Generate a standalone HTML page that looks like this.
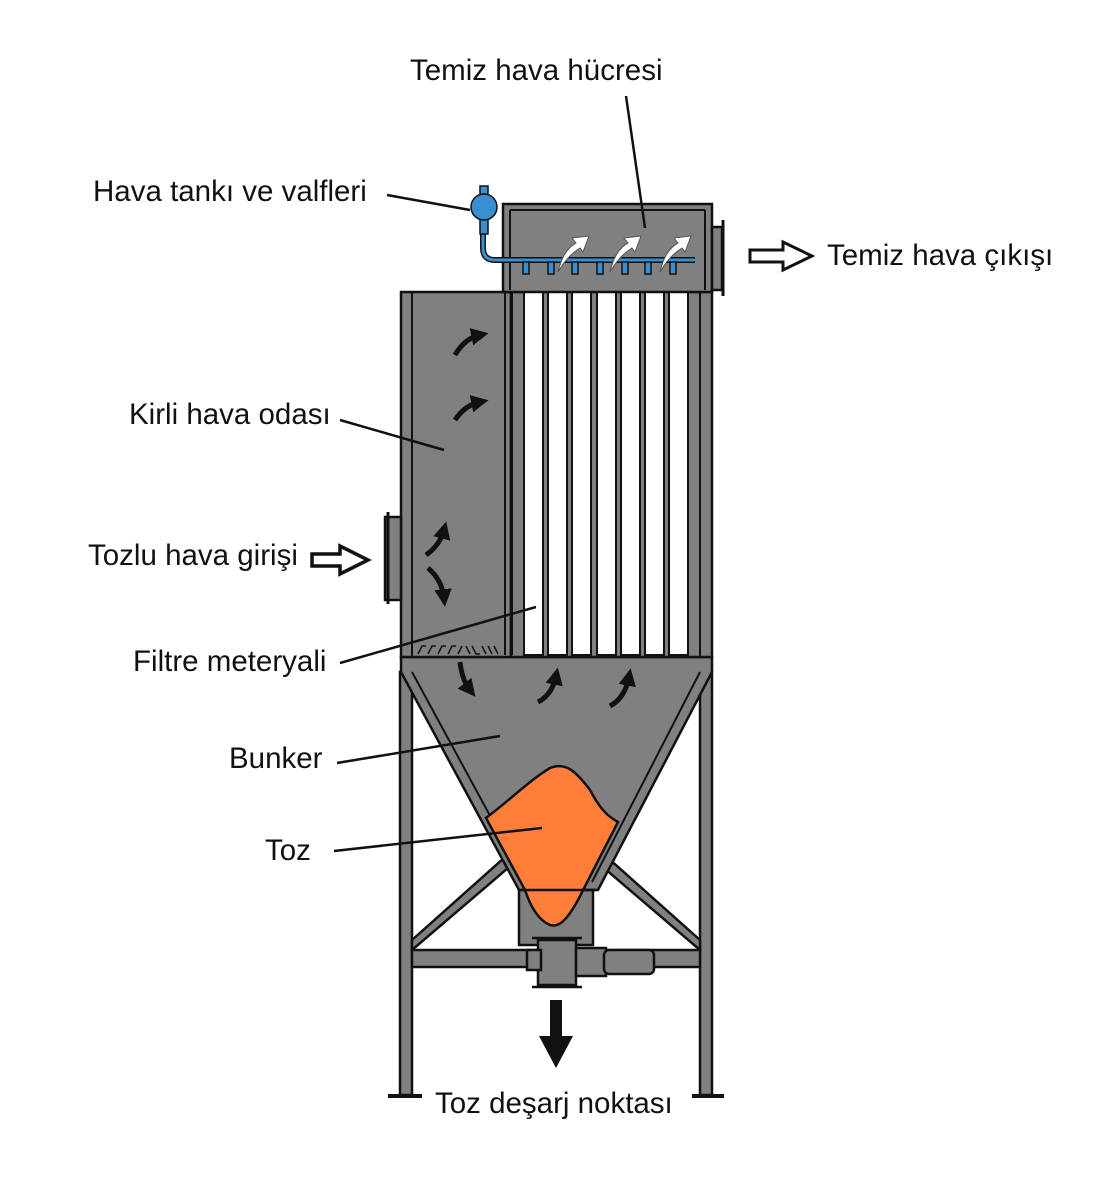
<!DOCTYPE html>
<html><head><meta charset="utf-8"><style>
html,body{margin:0;padding:0;background:#fff;}
svg{display:block}
text{font-family:"Liberation Sans",sans-serif;font-size:29.5px;fill:#111;}
</style></head><body>
<svg width="1100" height="1200" viewBox="0 0 1100 1200" xmlns="http://www.w3.org/2000/svg">
<defs>
<marker id="ah" viewBox="0 0 10 10" refX="5" refY="5" markerWidth="3.5" markerHeight="3.5" orient="auto"><path d="M0,0 L10,5 L0,10 z" fill="#111"/></marker>
</defs>
<g stroke="#111" stroke-width="2.5" fill="#808080">
<rect x="400" y="672" width="12" height="423"/>
<rect x="700" y="672" width="12" height="423"/>
<line x1="388" y1="1096" x2="422" y2="1096" stroke-width="4"/>
<line x1="692" y1="1096" x2="724" y2="1096" stroke-width="4"/>
<polygon points="412,940 412,950 508,868 504,858"/>
<polygon points="700,940 700,950 604,868 608,858"/>
<rect x="412" y="950" width="288" height="17"/>
<polygon points="401,657 712,657 712,672 598,890 519,890 401,672"/>
<line x1="412" y1="672" x2="526" y2="882" stroke-width="2"/>
<line x1="700" y1="672" x2="592" y2="882" stroke-width="2"/>
<rect x="519" y="890" width="74" height="55"/>
<rect x="538" y="940" width="38" height="45"/>
<rect x="527" y="950" width="14" height="20"/>
<rect x="576" y="948" width="30" height="28"/>
<rect x="604" y="950" width="50" height="24" rx="5"/>
<line x1="532" y1="938" x2="582" y2="938"/>
<line x1="532" y1="987" x2="582" y2="987"/>
<path d="M486,818 C510,800 530,780 550,768 C565,762 575,770 590,790 C598,805 605,815 618,822 L578,900 C568,918 560,928 550,925 C538,920 530,905 525,890 Z" fill="#FF7F3A" stroke="#111" stroke-width="2.5"/>
<line x1="522" y1="890" x2="596" y2="890" stroke-width="2.5"/>
<rect x="401" y="292" width="110" height="365"/>
<line x1="412" y1="292" x2="412" y2="657" stroke-width="2"/>
<rect x="385" y="517" width="16" height="83"/>
<line x1="388" y1="512" x2="388" y2="604" stroke-width="3"/>
<rect x="511" y="292" width="201" height="365"/>
<line x1="700" y1="292" x2="700" y2="657" stroke-width="2"/>
<line x1="505" y1="292" x2="505" y2="655" stroke-width="2"/>
<line x1="512" y1="292" x2="512" y2="655" stroke-width="2"/>
</g>
<g fill="#fff" stroke="#111" stroke-width="2">
<rect x="524" y="292" width="19" height="363"/>
<rect x="548" y="292" width="19" height="363"/>
<rect x="572" y="292" width="19" height="363"/>
<rect x="597" y="292" width="19" height="363"/>
<rect x="621" y="292" width="19" height="363"/>
<rect x="645" y="292" width="19" height="363"/>
<rect x="669" y="292" width="19" height="363"/>
</g>
<g stroke="#111" stroke-width="2.5" fill="#808080">
<rect x="503" y="204" width="209" height="88"/>
<line x1="510" y1="210" x2="705" y2="210" stroke-width="2"/>
<line x1="510" y1="210" x2="510" y2="290" stroke-width="2"/>
<line x1="705" y1="210" x2="705" y2="290" stroke-width="2"/>
<rect x="712" y="227" width="10" height="63"/>
<line x1="723" y1="220" x2="723" y2="296" stroke-width="3"/>
</g>
<path d="M483,220 L483,248 Q483,260 495,260 L695,260" fill="none" stroke="#111" stroke-width="6"/>
<path d="M483,220 L483,248 Q483,260 495,260 L695,260" fill="none" stroke="#3a8fd0" stroke-width="3"/>
<g fill="#3a8fd0" stroke="#111" stroke-width="1.5">
<rect x="523" y="262" width="6" height="12"/><rect x="548" y="262" width="6" height="12"/><rect x="572" y="262" width="6" height="12"/><rect x="597" y="262" width="6" height="12"/><rect x="622" y="262" width="6" height="12"/><rect x="645" y="262" width="6" height="12"/><rect x="670" y="262" width="6" height="12"/>
<rect x="480" y="186" width="8" height="10"/>
<rect x="480" y="218" width="8" height="16"/>
<circle cx="484" cy="207" r="13"/>
</g>
<g fill="#fff" stroke="#555" stroke-width="1">
<path d="M558,272 Q563,250 576,243 L572,238 L589,236 L583,252 L580,248 Q568,255 558,272 Z"/>
<path d="M610,272 Q615,250 628,243 L624,238 L641,236 L635,252 L632,248 Q620,255 610,272 Z"/>
<path d="M660,272 Q665,250 678,243 L674,238 L691,236 L685,252 L682,248 Q670,255 660,272 Z"/>
</g>
<g fill="none" stroke="#111" stroke-width="5" marker-end="url(#ah)">
<path d="M455,355 Q465,338 480,335"/>
<path d="M455,420 Q465,405 480,402"/>
<path d="M426,555 Q440,545 444,530"/>
<path d="M428,568 Q442,580 444,598"/>
<path d="M460,662 Q462,680 470,690"/>
<path d="M538,702 Q552,695 556,676"/>
<path d="M610,706 Q625,698 629,677"/>
</g>
<g stroke="#111" stroke-width="1.5" fill="none">
<path d="M418,654 l4,-8 l4,0 M428,654 l4,-8 l4,0 M438,654 l4,-8 l4,0 M448,654 l4,-8 l4,0 M458,654 l4,-8 M466,646 l4,8 M472,646 l4,8 l4,0 M482,646 l4,8 M488,646 l4,8 M494,646 l4,8"/>
</g>
<path d="M312,554 L340,554 L340,546 L368,560 L340,574 L340,566 L312,566 Z" fill="#fff" stroke="#111" stroke-width="3.5"/>
<path d="M750,250 L783,250 L783,242 L812,256 L783,270 L783,262 L750,262 Z" fill="#fff" stroke="#111" stroke-width="3"/>
<path d="M550,1000 L562,1000 L562,1036 L573,1036 L556,1068 L539,1036 L550,1036 Z" fill="#111"/>
<g stroke="#111" stroke-width="2.5">
<line x1="626" y1="96" x2="645" y2="228"/>
<line x1="387" y1="195" x2="470" y2="210"/>
<line x1="340" y1="420" x2="444" y2="450"/>
<line x1="340" y1="663" x2="536" y2="607"/>
<line x1="337" y1="763" x2="500" y2="736"/>
<line x1="334" y1="851" x2="542" y2="828"/>
</g>
<text x="410" y="80">Temiz hava hücresi</text>
<text x="93" y="201">Hava tankı ve valfleri</text>
<text x="827" y="265">Temiz hava çıkışı</text>
<text x="129" y="424">Kirli hava odası</text>
<text x="88" y="565">Tozlu hava girişi</text>
<text x="133" y="671">Filtre meteryali</text>
<text x="229" y="768">Bunker</text>
<text x="265" y="860">Toz</text>
<text x="435" y="1113">Toz deşarj noktası</text>
</svg>
</body></html>
